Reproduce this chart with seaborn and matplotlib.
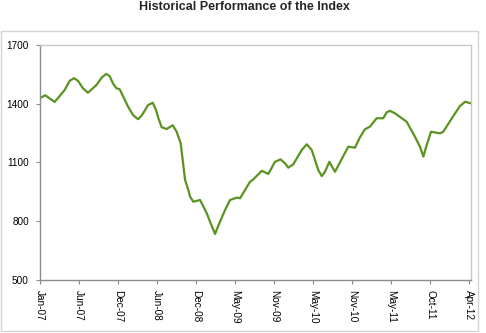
import matplotlib
matplotlib.use("Agg")
import matplotlib.pyplot as plt
import matplotlib.patches as mpatches
import seaborn as sns
import pandas as pd

# week index along the axis and index level
weeks = [0, 3.4, 9.4, 15.8, 19.0, 21.8, 24.3, 27.5, 30.7, 36.1, 39.7, 42.5,
         44.6, 46.7, 48.9, 51.0, 56.4, 59.6, 62.8, 65.3, 69.2, 72.2, 74.3,
         75.8, 77.9, 81.1, 85.0, 87.5, 90.1, 92.9, 95.0, 96.1, 98.2, 102.5, 106.8,
         109.3, 112.1, 114.8, 118.5, 121.7, 126.0, 128.1, 134.5, 136.6, 142.0,
         146.2, 150.5, 154.1, 156.9, 159.0, 162.2, 167.6, 170.8, 174.0, 178.2,
         180.4, 182.5, 185.3, 188.9, 197.4, 201.7, 204.9, 208.1, 211.3, 215.6,
         219.8, 222.0, 224.1, 227.3, 234.8, 240.1, 243.3, 245.5, 247.6, 250.4,
         256.1, 258.2, 265.8, 268.9, 272.2, 276.0]
values = [1428, 1442, 1408, 1469, 1516, 1529, 1516, 1478, 1455, 1494, 1534, 1551,
          1540, 1503, 1478, 1473, 1384, 1341, 1320, 1341, 1392, 1404, 1367,
          1325, 1279, 1270, 1289, 1256, 1197, 1010, 959, 925, 899, 908, 840,
          789, 735, 789, 857, 908, 920, 917, 1001, 1013, 1057,
          1041, 1103, 1115, 1095, 1073, 1090, 1163, 1192, 1163, 1061,
          1030, 1052, 1103, 1052, 1180, 1175, 1228, 1269, 1282, 1325,
          1325, 1355, 1363, 1350, 1307, 1231, 1180, 1129, 1188, 1256,
          1248, 1256, 1350, 1387, 1409, 1401]
tick_pos = [0, 25, 50, 75, 100, 125, 150, 175, 200, 225, 250, 275]
tick_labels = ["Jan-07", "Jun-07", "Dec-07", "Jun-08", "Dec-08", "May-09",
               "Nov-09", "May-10", "Nov-10", "May-11", "Oct-11", "Apr-12"]
y_ticks = [500, 800, 1100, 1400, 1700]

df = pd.DataFrame({"week": weeks, "value": values})

sns.set_style("white")
plt.rcParams["font.family"] = ["Liberation Sans", "DejaVu Sans"]

W, H = 486, 333
fig = plt.figure(figsize=(W / 100, H / 100), dpi=100)
fig.patch.set_facecolor("white")

# outer chart border
fig.patches.append(mpatches.Rectangle((1 / W, 1 - 331 / H), 477 / W, 300 / H,
                                      transform=fig.transFigure, fill=False,
                                      edgecolor="#d4d4d4", linewidth=1.0))

ax = fig.add_axes([40 / W, 1 - 280 / H, 431 / W, 235.3 / H])
sns.lineplot(data=df, x="week", y="value", ax=ax, color="#5B9321",
             linewidth=1.6, legend=False)
for ln in ax.get_lines():
    ln.set_solid_joinstyle("round")
    ln.set_solid_capstyle("round")

ax.set_xlim(0, 276)
ax.set_ylim(500, 1700)
ax.set_yticks(y_ticks)
ax.set_yticklabels([str(v) for v in y_ticks], fontsize=7.2, color="black")
ax.set_xticks(tick_pos)
ax.set_xticklabels(tick_labels, rotation=-90, fontsize=7.2, color="black",
                   va="top", ha="center")
ax.set_xlabel("")
ax.set_ylabel("")
ax.tick_params(axis="both", which="major", direction="out", length=3,
               width=0.8, color="#8c8c8c", pad=4, bottom=True, left=True)
ax.tick_params(axis="y", pad=5)
for side in ["left", "bottom"]:
    ax.spines[side].set_color("#8c8c8c")
    ax.spines[side].set_linewidth(1.0)
for side in ["top", "right"]:
    ax.spines[side].set_color("#c8c8c8")
    ax.spines[side].set_linewidth(1.0)
ax.grid(False)

fig.text(244 / W, 1 - 6.5 / H, "Historical Performance of the Index",
         ha="center", va="center", fontsize=9, fontweight="bold")

fig.savefig("out.png", dpi=100)
